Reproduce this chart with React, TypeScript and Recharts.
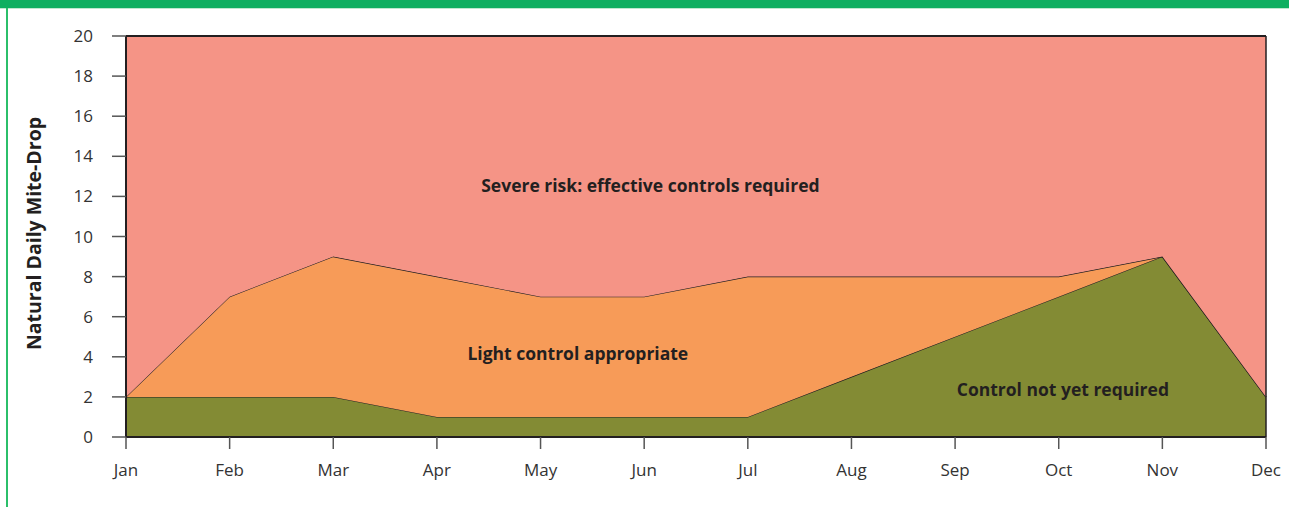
import React from 'react';
import { ComposedChart, Area, XAxis, YAxis, ReferenceLine, ReferenceDot } from 'recharts';

const months = ['Jan', 'Feb', 'Mar', 'Apr', 'May', 'Jun', 'Jul', 'Aug', 'Sep', 'Oct', 'Nov', 'Dec'];
const notYetRequired = [2, 2, 2, 1, 1, 1, 1, 3, 5, 7, 9, 2];
const lightControlUpper = [2, 7, 9, 8, 7, 7, 8, 8, 8, 8, 9, 2];
const severeUpper = [20, 20, 20, 20, 20, 20, 20, 20, 20, 20, 20, 20];
const yTicks = [0, 2, 4, 6, 8, 10, 12, 14, 16, 18, 20];

const data = months.map((m, i) => ({
  idx: i,
  month: m,
  green: notYetRequired[i],
  orange: lightControlUpper[i] - notYetRequired[i],
  red: severeUpper[i] - lightControlUpper[i],
}));

const FONT = '"Open Sans", "Noto Sans", sans-serif';

const YLabel = (props: any) => {
  const vb = props.viewBox || {};
  const cy = vb.y + vb.height / 2 - 3;
  return (
    <text
      x={33}
      y={cy}
      transform={`rotate(-90, 33, ${cy})`}
      textAnchor="middle"
      dominantBaseline="central"
      fontFamily={FONT}
      fontWeight={700}
      fontSize={19.5}
      fill="#231f20"
    >
      Natural Daily Mite-Drop
    </text>
  );
};

const labelStyle = { fontFamily: FONT, fontWeight: 700, fontSize: 17.5, fill: '#231f20' };

export default function App() {
  return (
    <div style={{ position: 'fixed', left: 0, top: 0, width: 1289, height: 507, background: '#fff', overflow: 'hidden' }}>
      <div style={{ position: 'absolute', left: 0, top: 0, width: 1289, height: 8, background: '#0faf60' }} />
      <div style={{ position: 'absolute', left: 0, top: 8, width: 1289, height: 1, background: '#bfe8cf' }} />
      <div style={{ position: 'absolute', left: 6, top: 8, width: 2, height: 499, background: '#2bbf6a' }} />
      <div style={{ position: 'absolute', left: 0, top: 0 }}>
        <ComposedChart
          width={1289}
          height={507}
          data={data}
          margin={{ top: 36, right: 23, bottom: 0, left: 0 }}
        >
          <XAxis
            dataKey="idx"
            type="number"
            domain={[0, 11]}
            ticks={[0, 1, 2, 3, 4, 5, 6, 7, 8, 9, 10, 11]}
            tickFormatter={(v: number) => months[v]}
            interval={0}
            height={70}
            tickSize={12}
            tickMargin={15}
            axisLine={{ stroke: '#231f20', strokeWidth: 2 }}
            tickLine={{ stroke: '#555', strokeWidth: 1.5 }}
            tick={{ fontFamily: FONT, fontSize: 17, fill: '#333' }}
          />
          <YAxis
            type="number"
            domain={[0, 20]}
            ticks={yTicks}
            interval={0}
            width={126}
            tickSize={14}
            tickMargin={19}
            axisLine={{ stroke: '#231f20', strokeWidth: 2 }}
            tickLine={{ stroke: '#555', strokeWidth: 1.5 }}
            tick={{ fontFamily: FONT, fontSize: 17, fill: '#333' }}
            label={<YLabel />}
          />
          <Area
            type="linear"
            dataKey="green"
            stackId="s"
            fill="#838b34"
            fillOpacity={1}
            stroke="#231f20"
            strokeWidth={1.2}
            isAnimationActive={false}
          />
          <Area
            type="linear"
            dataKey="orange"
            stackId="s"
            fill="#f79b58"
            fillOpacity={1}
            stroke="#231f20"
            strokeWidth={1.2}
            isAnimationActive={false}
          />
          <Area
            type="linear"
            dataKey="red"
            stackId="s"
            fill="#f59486"
            fillOpacity={1}
            stroke="#231f20"
            strokeWidth={2}
            isAnimationActive={false}
          />
          <ReferenceLine x={11} stroke="#231f20" strokeWidth={1.5} />
          <ReferenceLine y={20} stroke="#231f20" strokeWidth={2} />
          <ReferenceDot x={5.06} y={12.52} r={0} fill="none" stroke="none"
            label={{ value: 'Severe risk: effective controls required', position: 'center', ...labelStyle }} />
          <ReferenceDot x={4.36} y={4.14} r={0} fill="none" stroke="none"
            label={{ value: 'Light control appropriate', position: 'center', ...labelStyle }} />
          <ReferenceDot x={9.04} y={2.34} r={0} fill="none" stroke="none"
            label={{ value: 'Control not yet required', position: 'center', ...labelStyle }} />
        </ComposedChart>
      </div>
    </div>
  );
}
